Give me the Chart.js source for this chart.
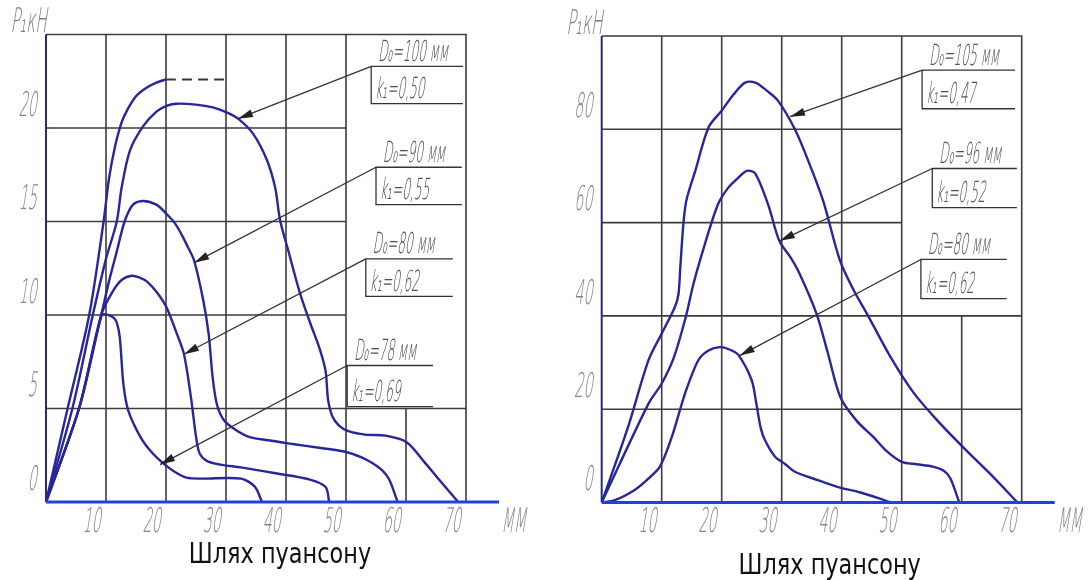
<!DOCTYPE html>
<html>
<head>
<meta charset="utf-8">
<title>Шлях пуансону</title>
<script src="https://cdn.jsdelivr.net/npm/chart.js@4.4.1/dist/chart.umd.min.js"></script>
<style>
  html, body { margin: 0; padding: 0; background: #ffffff; }
  #sheet { position: relative; width: 1091px; height: 580px; overflow: hidden; }
  .panel { position: absolute; top: 0; height: 580px; }
  #leftPanel { left: 0; width: 560px; }
  #rightPanel { left: 560px; width: 531px; }
</style>
</head>
<body>
<div id="sheet">
  <div class="panel" id="leftPanel"><canvas id="leftChart"></canvas></div>
  <div class="panel" id="rightPanel"><canvas id="rightChart"></canvas></div>
</div>
<script>
// axis ticks
const xTickValues = [0, 10, 20, 30, 40, 50, 60, 70];
const leftYTickValues = [0, 5, 10, 15, 20, 25];
const rightYTickValues = [0, 20, 40, 60, 80, 100];

// left graph, P1 in kN against stroke in mm
const leftIdealX = [0, 3.6, 7.2, 9.6, 10.5, 11.5, 12.6, 13.6, 15, 16.5, 18.2, 20];
const leftIdealY = [0, 5, 10, 15, 17.3, 19, 20.3, 21, 21.7, 22.1, 22.4, 22.6];
const leftDashX = [20, 30];
const leftDashY = [22.6, 22.6];
const left100X = [0, 4.4, 7.8, 10, 11.8, 12.6, 14, 16.2, 18.5, 20.2, 21.8, 25, 27.8, 30, 32, 34.5, 36.8, 38.2, 39, 40.5, 42.3, 44, 45.6, 46.6, 47, 47.7, 48.8, 50.3, 53.2, 56.6, 60.1, 62.9, 65.5, 68.7];
const left100Y = [0, 5, 10, 13, 15, 16.8, 18.8, 20.1, 20.9, 21.2, 21.3, 21.25, 21.1, 20.85, 20.5, 19.7, 18.3, 16.8, 15.1, 13.3, 11.2, 9.6, 8.2, 7.0, 5.5, 4.6, 4.1, 3.8, 3.6, 3.55, 3.2, 2.2, 1.2, 0];
const left90X = [0, 5.5, 9.2, 10.5, 11.8, 13.1, 14.5, 16.2, 18.4, 20.1, 21.5, 22.6, 23.7, 24.7, 26.2, 27.1, 27.8, 28.5, 29.6, 31.4, 33.7, 37, 41.1, 45.5, 49.7, 52.5, 54.3, 56, 57.2, 58.6];
const left90Y = [0, 5, 10, 11.8, 13.4, 15, 15.9, 16.1, 15.9, 15.4, 14.9, 14.3, 13.6, 12.9, 10.8, 9.0, 6.6, 5.2, 4.4, 3.9, 3.5, 3.3, 3.1, 2.9, 2.7, 2.4, 2.1, 1.7, 1.2, 0];
const left80X = [0, 5.5, 9.2, 11.2, 12.7, 14.3, 15.6, 16.8, 18.5, 20.1, 21.8, 23, 24.2, 25, 25.6, 26.8, 29, 32.5, 38, 44, 46.6, 47.2];
const left80Y = [0, 5, 10, 11.3, 11.9, 12.1, 12.0, 11.8, 11.2, 10.4, 9.0, 7.9, 5.5, 3.5, 2.6, 2.2, 2.0, 1.85, 1.55, 1.2, 0.8, 0];
const left78X = [0, 5.5, 9.3, 10.4, 11.3, 11.8, 12.3, 12.9, 13.7, 15.7, 17.5, 19.6, 21.5, 23.4, 26, 32.5, 34.8, 36];
const left78Y = [0, 5, 10, 10, 9.85, 9.6, 8.8, 6.3, 4.9, 3.5, 2.7, 2.05, 1.6, 1.3, 1.25, 1.25, 0.82, 0];

// right graph
const right105X = [0, 4.4, 7.8, 10, 12.2, 12.8, 13.1, 13.6, 14.1, 15.6, 17.8, 20, 22, 23.9, 25.6, 27.5, 29.4, 32.2, 34.5, 36.9, 39.7, 42, 44.2, 48, 52, 56, 60.5, 65, 69.3];
const right105Y = [0, 16.2, 30.5, 36.2, 41.9, 44.7, 50.4, 59.5, 64.7, 71.1, 80.4, 84, 87.5, 90, 90, 88.3, 86.1, 80, 73, 64.7, 51.9, 45.5, 40.5, 31.5, 23.5, 17.5, 11.5, 5.8, 0];
const right96X = [0, 7.8, 10, 12, 14, 15.3, 17.2, 19.4, 21.1, 22.5, 24.2, 25.6, 27.7, 29.6, 31.5, 33, 35.8, 37.7, 39.8, 42.5, 45.3, 47.5, 50, 52.5, 55.2, 57, 58.1, 59.6];
const right96Y = [0, 21.2, 25.5, 31, 39.7, 46.9, 55.4, 64, 67.5, 69.3, 71.1, 70.5, 64, 56.1, 52.5, 49, 40.5, 32, 22.5, 17.5, 14, 11, 8.7, 8.2, 7.7, 6.8, 5.2, 0];
const right80X = [0, 2.2, 5.5, 7.5, 9.7, 11.7, 13.9, 16.1, 17.8, 19.7, 21.3, 22.8, 25, 25.8, 26.5, 27.2, 28.9, 30.6, 32.2, 36, 39.4, 43, 46, 48.2];
const right80Y = [0, 0.5, 2.7, 4.8, 7.7, 14.1, 23.4, 30.5, 32.6, 33.3, 32.8, 31.6, 26.2, 21, 16, 13.4, 9.8, 8.2, 6.6, 4.8, 3.3, 2.2, 1, 0];

const CURVE = '#27279a';
const GRID = '#3d3d3d';
const TECH = "'DejaVu Sans', 'Liberation Sans', sans-serif";

// narrow slanted drafting-style text
function techText(ctx, str, x, y, size, color, align, sx) {
    ctx.save();
    ctx.translate(x, y);
    ctx.transform(sx || 0.42, 0, -0.16, 1, 0, 0);
    ctx.font = '200 ' + size + 'px ' + TECH;
    ctx.fillStyle = color;
    ctx.textAlign = align || 'left';
    ctx.textBaseline = 'middle';
    ctx.fillText(str, 0, 0);
    ctx.restore();
}

function arrowHead(ctx, fx, fy, tx, ty) {
    const a = Math.atan2(ty - fy, tx - fx);
    const len = 15, half = 4;
    ctx.beginPath();
    ctx.moveTo(tx, ty);
    ctx.lineTo(tx - len * Math.cos(a) + half * Math.sin(a), ty - len * Math.sin(a) - half * Math.cos(a));
    ctx.lineTo(tx - len * Math.cos(a) - half * Math.sin(a), ty - len * Math.sin(a) + half * Math.cos(a));
    ctx.closePath();
    ctx.fill();
}

const sheetPlugin = {
    id: 'sheet',
    beforeDatasetsDraw(chart, args, opts) {
        const ctx = chart.ctx, xs = chart.scales.x, ys = chart.scales.y;
        const X = v => xs.getPixelForValue(v), Y = v => ys.getPixelForValue(v);
        ctx.save();
        ctx.strokeStyle = GRID;
        ctx.lineWidth = 1.6;
        ctx.beginPath();
        opts.vlines.forEach(([v, a, b]) => { ctx.moveTo(X(v), Y(a)); ctx.lineTo(X(v), Y(b)); });
        opts.hlines.forEach(([v, a, b]) => { ctx.moveTo(X(a), Y(v)); ctx.lineTo(X(b), Y(v)); });
        ctx.moveTo(X(0), Y(ys.max));
        ctx.lineTo(X(xs.max), Y(ys.max));
        ctx.lineTo(X(xs.max), Y(0));
        ctx.stroke();
        ctx.strokeStyle = '#2b2b70';
        ctx.lineWidth = 2;
        ctx.beginPath();
        ctx.moveTo(X(0), Y(ys.max));
        ctx.lineTo(X(0), Y(0));
        ctx.stroke();
        ctx.restore();
    },
    afterDatasetsDraw(chart, args, opts) {
        const ctx = chart.ctx, xs = chart.scales.x, ys = chart.scales.y;
        const X = v => xs.getPixelForValue(v), Y = v => ys.getPixelForValue(v);
        const area = chart.chartArea;
        ctx.save();
        // blue base line
        ctx.strokeStyle = '#2040e0';
        ctx.lineWidth = 3;
        ctx.beginPath();
        ctx.moveTo(X(0), Y(0));
        ctx.lineTo(X(75.5), Y(0));
        ctx.stroke();

        // tick labels
        xs.ticks.forEach(t => {
            if (t.value === 0) return;
            techText(ctx, String(t.value), X(t.value) - 13, area.bottom + 21, 34, '#858585', 'center');
        });
        ys.ticks.forEach(t => {
            if (t.value === ys.max) return;
            techText(ctx, String(t.value), area.left - 8, Y(t.value) - 21, 34, '#858585', 'right');
        });
        techText(ctx, 'ММ', X(75.5) + 16, area.bottom + 21, 34, '#858585', 'center');
        techText(ctx, 'P₁кН', area.left - 16, area.top - 11, 34, '#7a7a7a', 'center', 0.45);

        // leader notes
        ctx.strokeStyle = '#333333';
        ctx.fillStyle = '#222222';
        ctx.lineWidth = 1.3;
        opts.notes.forEach(n => {
            const cx = X(n.corner[0]), cy = Y(n.corner[1]);
            const rx = X(n.right), by = Y(n.bottom);
            const tx = X(n.tip[0]), ty = Y(n.tip[1]);
            ctx.beginPath();
            ctx.moveTo(rx, cy); ctx.lineTo(cx, cy); ctx.lineTo(cx, by); ctx.lineTo(rx, by);
            ctx.moveTo(cx, cy); ctx.lineTo(tx, ty);
            ctx.stroke();
            arrowHead(ctx, cx, cy, tx, ty);
            techText(ctx, n.lines[0], cx + 8, cy - 13, 29, '#4f4f4f', 'left');
            techText(ctx, n.lines[1], cx + 5, by - 13, 29, '#4f4f4f', 'left');
        });

        // caption under the graph
        ctx.save();
        ctx.translate((area.left + area.right) / 2 + opts.titleShift, opts.titleY);
        ctx.scale(0.8, 1);
        ctx.font = '28px ' + TECH;
        ctx.fillStyle = '#111111';
        ctx.textAlign = 'center';
        ctx.textBaseline = 'middle';
        ctx.fillText('Шлях пуансону', 0, 0);
        ctx.restore();
        ctx.restore();
    }
};

function series(label, xs, ys, dash, color) {
    return {
        label: label,
        data: xs.map((x, i) => ({ x: x, y: ys[i] })),
        showLine: true,
        borderColor: color || CURVE,
        borderWidth: dash ? 2 : 2.4,
        borderDash: dash || [],
        pointRadius: 0,
        tension: 0.3,
        fill: false
    };
}

function makeChart(id, datasets, yMax, yTicks, sheet) {
    return new Chart(document.getElementById(id), {
        type: 'scatter',
        data: { datasets: datasets },
        options: {
            responsive: true,
            maintainAspectRatio: false,
            animation: false,
            layout: { padding: sheet.padding },
            plugins: {
                legend: { display: false },
                tooltip: { enabled: false },
                title: { display: false },
                sheet: sheet
            },
            scales: {
                x: {
                    type: 'linear', min: 0, max: 70,
                    afterBuildTicks: s => { s.ticks = xTickValues.map(v => ({ value: v })); },
                    afterFit: s => { s.height = sheet.xHeight; },
                    ticks: { display: false },
                    grid: { display: false, drawTicks: false },
                    border: { display: false }
                },
                y: {
                    type: 'linear', min: 0, max: yMax,
                    afterBuildTicks: s => { s.ticks = yTicks.map(v => ({ value: v })); },
                    afterFit: s => { s.width = sheet.yWidth; },
                    ticks: { display: false },
                    grid: { display: false, drawTicks: false },
                    border: { display: false }
                }
            }
        },
        plugins: [sheetPlugin]
    });
}

makeChart('leftChart', [
    series('Ідеальна', leftIdealX, leftIdealY),
    series('Ідеальна (продовження)', leftDashX, leftDashY, [10, 6], '#3a3a3a'),
    series('D0=100 мм, k1=0,50', left100X, left100Y),
    series('D0=90 мм, k1=0,55', left90X, left90Y),
    series('D0=80 мм, k1=0,62', left80X, left80Y),
    series('D0=78 мм, k1=0,69', left78X, left78Y)
], 25, leftYTickValues, {
    padding: { top: 34.5, right: 94, bottom: 0, left: 0 },
    xHeight: 78, yWidth: 46, titleShift: 24, titleY: 556,
    vlines: [[10, 0, 25], [20, 0, 25], [30, 0, 25], [40, 0, 25], [50, 0, 25], [60, 0, 5]],
    hlines: [[5, 0, 70], [10, 0, 50], [15, 0, 50], [20, 0, 50]],
    notes: [
        { lines: ['D₀=100 мм', 'k₁=0,50'], corner: [54.2, 23.3], right: 69.5, bottom: 21.3, tip: [32, 20.5] },
        { lines: ['D₀=90 мм', 'k₁=0,55'], corner: [55, 17.9], right: 69.3, bottom: 15.9, tip: [24.7, 12.8] },
        { lines: ['D₀=80 мм', 'k₁=0,62'], corner: [53.3, 13.0], right: 67.8, bottom: 11.0, tip: [23, 7.9] },
        { lines: ['D₀=78 мм', 'k₁=0,69'], corner: [50.2, 7.3], right: 64.5, bottom: 5.1, tip: [19, 2.0] }
    ]
});

makeChart('rightChart', [
    series('D0=105 мм, k1=0,47', right105X, right105Y),
    series('D0=96 мм, k1=0,52', right96X, right96Y),
    series('D0=80 мм, k1=0,62', right80X, right80Y)
], 100, rightYTickValues, {
    padding: { top: 36, right: 69.3, bottom: 0, left: 0 },
    xHeight: 77.5, yWidth: 41.7, titleShift: 18, titleY: 567,
    vlines: [[10, 0, 100], [20, 0, 100], [30, 0, 100], [40, 0, 100], [50, 0, 100], [60, 0, 40]],
    hlines: [[20, 0, 70], [40, 0, 70], [60, 0, 50], [80, 0, 50]],
    notes: [
        { lines: ['D₀=105 мм', 'k₁=0,47'], corner: [53.4, 92.7], right: 68.9, bottom: 84.4, tip: [31.4, 82.7] },
        { lines: ['D₀=96 мм', 'k₁=0,52'], corner: [55.1, 71.6], right: 69.2, bottom: 63.2, tip: [29.7, 56.1] },
        { lines: ['D₀=80 мм', 'k₁=0,62'], corner: [53.2, 52.1], right: 67.5, bottom: 43.7, tip: [23, 31.5] }
    ]
});
</script>
</body>
</html>
